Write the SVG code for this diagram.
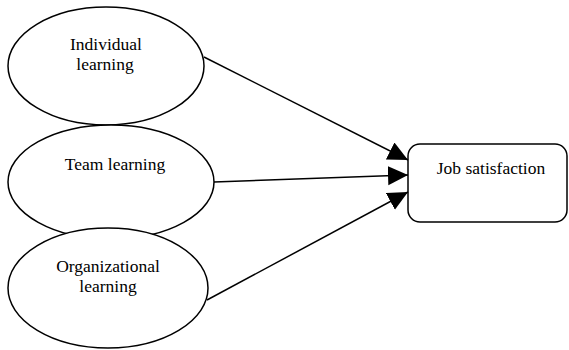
<svg xmlns="http://www.w3.org/2000/svg" width="569" height="350" viewBox="0 0 569 350">
<style>
.node{fill:#fff;stroke:#000;stroke-width:1.5}
.lbl{font-family:"Liberation Serif","Times New Roman",serif;font-size:17.5px;fill:#000;text-anchor:middle}
.edge{stroke:#000;stroke-width:1.5;fill:none;marker-end:url(#ah)}
</style>
<defs>
<marker id="ah" markerUnits="userSpaceOnUse" markerWidth="21" markerHeight="20" refX="20" refY="9.5" orient="auto">
<path d="M0,0 L20,9.5 L0,19 z" fill="#000"/>
</marker>
</defs>
<rect width="569" height="350" fill="#fff"/>
<g id="n-individual">
<ellipse class="node" cx="106" cy="66" rx="98" ry="59"/>
<text class="lbl" x="106" y="50">Individual</text>
<text class="lbl" x="105" y="70">learning</text>
</g>
<g id="n-team">
<ellipse class="node" cx="111" cy="182" rx="103" ry="57"/>
<text class="lbl" x="115" y="170">Team learning</text>
</g>
<g id="n-org">
<ellipse class="node" cx="108" cy="288" rx="100" ry="60"/>
<text class="lbl" x="108" y="272">Organizational</text>
<text class="lbl" x="108" y="292">learning</text>
</g>
<g id="n-job">
<rect class="node" x="408" y="144" width="159" height="78" rx="12" ry="12"/>
<text class="lbl" x="491" y="174">Job satisfaction</text>
</g>
<g id="connectors">
<line class="edge" x1="204" y1="57" x2="408" y2="160"/>
<line class="edge" x1="214" y1="182" x2="408" y2="175"/>
<line class="edge" x1="207" y1="300" x2="408" y2="192"/>
</g>
</svg>
